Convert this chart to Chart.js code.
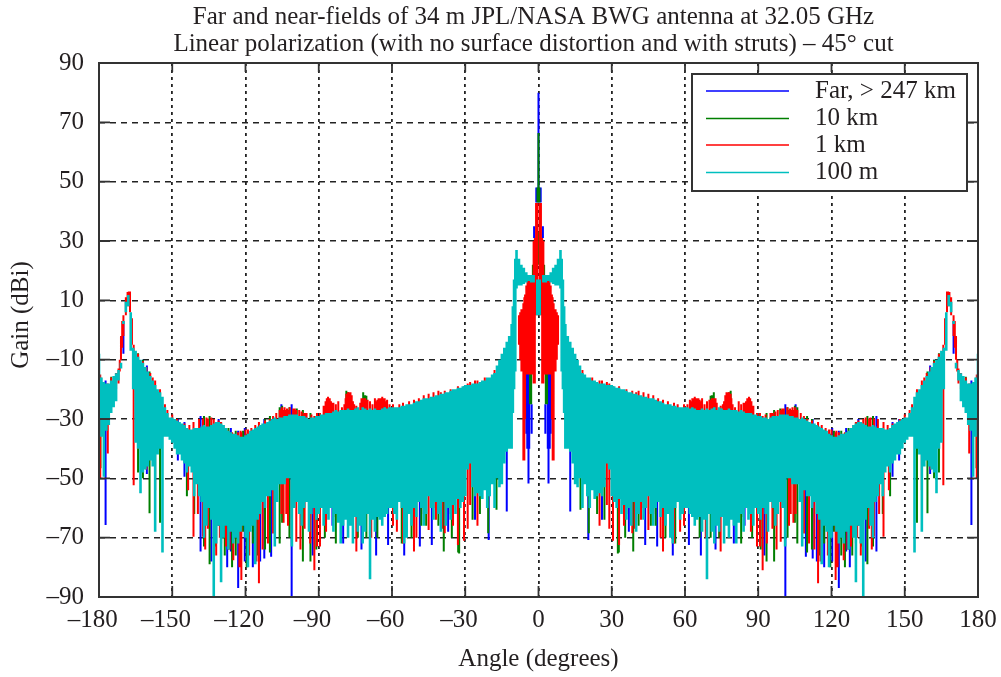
<!DOCTYPE html>
<html>
<head>
<meta charset="utf-8">
<title>Far and near-fields</title>
<script src="https://cdn.jsdelivr.net/npm/chart.js@4"></script>
<style>
  body { margin: 0; background: #fff; }
  canvas { display: block; }
</style>
</head>
<body>
<canvas id="gainChart" width="1001" height="677"></canvas>
<script>
// values, 0 to +180 degrees only: the cut is mirror symmetric
const titleLines = [
  'Far and near-fields of 34 m JPL/NASA BWG antenna at 32.05 GHz',
  'Linear polarization (with no surface distortion and with struts) \u2013 45\u00b0 cut'
];
const seriesNames = ['Far, > 247 km', '10 km', '1 km', '100 m'];
const seriesColors = ['#0000ff', '#007f00', '#ff0000', '#00bfbf'];
const xTicks = [-180, -150, -120, -90, -60, -30, 0, 30, 60, 90, 120, 150, 180];
const yTicks = [-90, -70, -50, -30, -10, 10, 30, 50, 70, 90];

const tealAngle = [
  0.5, 2, 3, 4, 5, 6, 7, 8, 9, 9.5, 10, 10.5,
  11, 12, 13, 14, 15, 16, 17, 18, 19, 20,
  21, 22, 23, 24, 25, 26, 27, 28, 29, 30,
  31, 32, 33, 34, 35, 36, 37, 38, 39, 40,
  41, 42, 43, 44, 45, 46, 47, 48, 49, 50,
  51, 52, 53, 54, 55, 56, 57, 58, 59, 60,
  61, 62, 63, 64, 65, 66, 67, 68, 69, 70,
  71, 72, 73, 74, 75, 76, 77, 78, 79, 80,
  81, 82, 83, 84, 85, 86, 87, 88, 89, 90,
  91, 92, 93, 94, 95, 96, 97, 98, 99, 100,
  101, 102, 103, 104, 105, 106, 107, 108, 109, 110,
  111, 112, 113, 114, 115, 116, 117, 118, 119, 120,
  121, 122, 123, 124, 125, 126, 127, 128, 129, 130,
  131, 132, 133, 134, 135, 136, 137, 138, 139, 140,
  141, 142, 143, 144, 145, 146, 147, 148, 149, 150,
  151, 152, 153, 154, 155, 156, 157, 158, 159, 160,
  161, 162, 163, 164, 165, 166, 167, 168, 169, 170,
  171, 172, 173, 174, 175, 176, 177, 178, 179, 180
];
const tealHigh = [
  17, 18.5, 18.5, 18.5, 19.5, 21, 22, 24, 27, 24, 17, 8,
  2, -2, -4, -6, -8, -10, -12, -14.5, -15, -16,
  -16, -17, -17, -17.5, -18, -18, -18, -18.5, -18.5, -18.5,
  -19, -19.5, -19.5, -20, -20, -20.5, -21, -21, -21.5, -21.5,
  -22, -22, -22.5, -22.5, -23, -23, -23, -23.5, -24, -24,
  -24.5, -25, -25, -25, -25.5, -25.5, -26, -26, -26, -26,
  -26, -26.5, -26, -26.5, -27, -27, -26.5, -27, -26.5, -27,
  -26.5, -26, -27, -26, -26.5, -27, -27, -26.5, -27, -27,
  -27, -27.5, -27, -27.5, -28, -28, -28, -28.5, -28.5, -29,
  -29, -29.5, -29.5, -30, -29.5, -29, -29, -29, -28.5, -28.5,
  -28.5, -28.5, -29, -29, -29.5, -29.5, -30, -29.5, -30, -30.5,
  -31, -31.5, -31.5, -32, -32.5, -33, -33.5, -34, -35, -35.5,
  -36, -36, -35.5, -35, -35, -34.5, -34, -33, -32, -31.5,
  -31, -31, -31.5, -32, -32.5, -32.5, -32, -32.5, -33, -33,
  -33, -33.5, -33.5, -33, -32, -31.5, -31, -30.5, -30, -29.5,
  -29.5, -28, -26, -22.5, -21, -20, -18.5, -17, -15.5, -14,
  -12.5, -11, -10, -9, -7, -6, 6, 11.8, 9.5, 3,
  -11, -13.5, -14.6, -15.5, -17, -18, -18, -17.5, -16, -8
];
const tealLow = [
  5, 16, 16, 16.5, 16, 15.5, 15, 15, 14, -14, -20, -28,
  -40, -40, -41, -45, -52, -53, -50, -60, -52, -56,
  -60, -54, -57, -56, -55, -56, -53, -45, -47, -56,
  -58, -60, -57, -62, -59, -64, -60, -66, -58, -68,
  -62, -58, -64, -60, -56, -62, -66, -60, -58, -63,
  -60, -66, -62, -70, -72, -60, -58, -64, -62, -60,
  -60, -62, -63, -66, -64, -63, -68, -64, -84, -62,
  -68, -72, -66, -68, -63, -72, -66, -70, -64, -66,
  -72, -65, -62, -68, -60, -64, -62, -66, -60, -62,
  -64, -60, -62, -68, -58, -60, -66, -62, -58, -60,
  -73, -50, -50, -52, -52, -52, -58, -73, -54, -56,
  -56, -60, -58, -62, -64, -79, -66, -68, -80, -70,
  -66, -68, -72, -70, -72, -68, -74, -66, -70, -85,
  -66, -72, -90, -64, -60, -66, -70, -58, -56, -52,
  -56, -48, -46, -48, -45, -44, -42, -42, -40, -38,
  -37, -36, -36, -75, -40, -42, -68, -46, -44, -46,
  -47, -48, -55, -40, -38, -20, -7, 8, 6, 2,
  -13, -17, -24, -26, -28, -32, -34, -49.5, -36, -30
];

const redAngle = [
  0.5, 1, 1.5, 2, 2.5, 3, 3.5, 4, 4.5, 5, 5.5, 5.8, 6.2, 7, 7.5, 8,
  18, 22, 25, 26, 28, 29, 30.5, 33, 36, 38.4,
  40, 41, 43, 45, 47, 49, 51, 53, 55.5, 57,
  59.6, 61, 62, 63, 64, 65, 66, 67, 68, 69,
  70, 71, 72, 73, 74.6, 75.5, 76.5, 77.3, 78, 78.7,
  79.5, 80.5, 82, 83, 84, 85, 86.2, 87.2, 88, 89.5,
  90.7, 91.8, 93, 95, 95.8, 97, 98, 99.2, 100.5, 101.9,
  102.6, 103.3, 104.4, 105.3, 106, 107.4, 108.7, 110, 110.8, 112,
  114.5, 116, 117.6, 119, 120, 121.7, 123, 124, 125, 126,
  127, 128, 129, 131, 133, 135.4, 137.4, 139, 141.3, 143,
  145, 148, 150, 152, 153, 155, 157, 158, 159, 160.6,
  162, 164, 165.8, 166.5, 167.3, 167.8, 168.3, 169, 170, 170.5,
  171, 171.5, 172, 173, 175, 176.4, 179.5, 180,
  // second pass: top bursts
  62.5, 63.5, 64.5, 65.5, 66.5, 70.5, 71.5, 72.5, 76, 77,
  77.7, 79, 84.5, 85.5, 86.7, 103, 104, 105, 96, 99.8,
  122, 125.5, 130, 134, 136,
  // second pass: lower spikes
  35, 39.5, 42, 50, 54, 58, 68.5, 87, 93.5, 97.5,
  113, 115.5, 118.5, 122.5, 126.5, 130.5, 132, 136.5, 139.5, 143.5
];
const redHigh = [
  42.8, 42.8, 31, 30, 17, 17, 17, 17, 17, 15, 12, 11, 9, 7, 6, 5,
  -13.5, -16, -17, -17, -17.5, -18, -19, -19, -20, -20.5,
  -21, -20.5, -21, -21.5, -22, -23, -23.5, -24, -24.5, -25,
  -25, -25, -23.5, -23, -22.5, -23, -23.5, -23, -25, -24,
  -23.5, -23, -23, -24.5, -25.5, -25, -22, -21, -21, -21.5,
  -25, -26, -24, -25, -24.5, -24, -22.5, -24, -25.5, -28,
  -28, -29, -28.5, -28, -28, -27.5, -27, -27, -26.5, -26,
  -27, -27, -27, -26.5, -27, -28, -29, -30, -31, -30.5,
  -31, -32, -33, -33.5, -33.5, -34.5, -34.5, -35, -35, -34.5,
  -34, -33, -32, -30.5, -30, -29.8, -29.8, -30, -31, -32,
  -31.5, -30, -28.5, -27, -25, -20, -17, -16, -14.5, -12.5,
  -10.5, -8, -5, 4, 13, 13, 12.8, 11, 5, 3,
  -2, -10, -13, -14.5, -16, -18, -15, -8,
  -24, -23, -23, -23, -24, -23.5, -23, -23, -24, -21,
  -21, -23, -24.5, -23, -23, -26.5, -26, -26, -28, -26.5,
  -34, -34.5, -31, -29.5, -29.5,
  -24, -25, -25, -28, -29, -30, -30, -30, -30, -30,
  -34, -35, -36, -36, -36, -36, -35, -35, -36, -36
];
const redLow = [
  5, 5, -18, -18, -15, -15, -15, -15, -15, -15, -30, -44, -44, -14, -10, -5,
  -16, -22, -66, -20, -59, -67, -71, -72.5, -62, -68.5,
  -24, -24, -60, -67.4, -62, -26, -74.7, -27, -72, -28,
  -66, -28, -30, -30, -31, -30, -30, -30, -32, -30,
  -30, -31, -32, -30, -74.7, -30, -30, -32, -32, -31,
  -30, -30, -61, -30, -63, -30, -31, -30, -30, -73,
  -73, -81, -32, -32, -67, -31, -33, -71.4, -33, -33,
  -66, -62, -65, -62, -34, -33, -68.6, -34, -72, -35,
  -85.4, -36, -66, -37, -40, -84.3, -70, -38, -77.6, -38,
  -38, -73, -36, -34, -34, -67, -69.7, -35, -69.7, -35,
  -35, -33, -32, -30, -29, -24, -54, -22, -20, -47,
  -15, -40, -52.3, -5, 6, 8, 8, 5, -2, -6,
  -10, -14, -18, -20, -22, -41.6, -50, -56,
  -30, -30, -30, -30, -30, -30, -30, -30, -30, -32,
  -32, -30, -30, -31, -31, -32, -32, -32, -33, -33,
  -38, -38, -34, -33, -33,
  -66, -67, -64, -70, -68, -68, -70, -68, -72, -74,
  -74, -78, -76, -80, -74, -70, -76, -74, -62, -54
];

const greenAngle = [
  0, 0.3, 0.4, 2, 2.3, 3, 3.5,
  17.2, 20.6, 32.5, 32.9, 38.8, 43, 46, 48, 62,
  70.5, 71, 71.8, 76, 78, 78.7, 93.4, 96.5, 99, 102,
  105, 106, 110, 112, 121, 124, 127, 130, 134.7, 137,
  155, 159.3, 162, 164, 175, 179.4, 180,
  // second pass: lower spikes
  24, 27, 35.5, 41, 52, 56, 66, 74, 83, 87.5,
  91, 115, 117, 119.5, 125.5, 128.5, 132.5, 141, 144
];
const greenHigh = [
  66.4, 33, 48, 22, 22, -13, -13,
  -25, -20, -24, -24, -25, -30, -30, -30, -30,
  -22.2, -22, -21, -28, -21, -20.5, -28, -27, -26.5, -26,
  -25.5, -26, -29, -30, -34, -34, -33, -31, -29, -29,
  -21, -14, -10, -7.8, -15.8, -16, -8,
  -30, -30, -30, -30, -30, -30, -30, -30, -30, -30,
  -30, -35, -35, -35, -35, -35, -35, -34, -34
];
const greenLow = [
  43, 22, 43, 17, 17, -25, -25,
  -60.6, -68.5, -75.3, -75, -74.7, -58, -66, -66, -60,
  -70, -26, -26, -62, -25, -26, -78, -78, -30, -70,
  -65, -72, -75, -74, -68, -76, -74, -72, -79, -73,
  -65, -61.8, -50, -48, -22, -46.6, -58,
  -62, -64, -70, -66, -70, -72, -70, -70, -72, -70,
  -74, -76, -72, -80, -80, -76, -73, -62, -56
];

const farAngle = [
  0, 0.9, 1.8, 2.8, 3.8, 4.1, 4.6, 5,
  13, 15.2, 20.4, 43.7, 48.6, 61.6, 84.4, 87, 89.5,
  101.1, 105.3, 109.5, 112.3, 120.3, 123, 126, 131, 138.4,
  145, 147.7, 160.4, 162, 170, 177.3,
  // second pass: lower spikes
  26, 37, 55, 66.5, 72.5, 80, 92.5, 114, 117, 127.5, 134
];
const farHigh = [
  80, 48, 35, -25, -14, -14, -14, -14,
  -30, -30, -40, -35, -35, -30, -27, -25, -28,
  -25, -25, -30, -30, -33, -34, -33, -30, -29,
  -31, -30, -12, -10, 3, -17,
  -30, -30, -30, -30, -30, -30, -30, -35, -35, -35, -35
];
const farLow = [
  43, 43, 31, -35, -40, -51.7, -40, -35,
  -61.2, -45, -70.8, -72.5, -73, -72.5, -66, -64, -60,
  -90, -30, -76.4, -77, -78, -87, -74.7, -66, -74.7,
  -49.5, -44, -48.5, -40, -8, -65.7,
  -64, -68, -76, -76, -74, -72, -76, -78, -80, -80, -78
];

// one vertical stroke per column, on both sides of boresight, broken by a null point
function columns(angles, high, low) {
  const pts = [];
  const add = (x, i) => {
    pts.push({ x: x, y: high[i] }, { x: x, y: low[i] }, { x: x, y: null });
  };
  for (let i = angles.length - 1; i >= 0; i--) {
    if (angles[i] !== 0) add(-angles[i], i);
  }
  angles.forEach((a, i) => add(a, i));
  return pts;
}

function lineSet(i, data, width) {
  return {
    label: seriesNames[i],
    data: data,
    borderColor: seriesColors[i],
    backgroundColor: seriesColors[i],
    borderWidth: width,
    borderCapStyle: 'butt',
    borderJoinStyle: 'bevel',
    pointRadius: 0,
    tension: 0,
    fill: false,
    spanGaps: false,
    order: 4 - i // 100 m goes on top, far field at the bottom
  };
}

const serif = '"Liberation Serif", "Times New Roman", serif';
const inkColor = '#231f20';

// box, inner ticks, y title and the legend, which sits on top of the traces
const framePlugin = {
  id: 'frame',
  afterLayout(chart) {
    chart.titleBlock.left -= 10;
  },
  afterDatasetsDraw(chart) {
    const { ctx, chartArea: a, scales } = chart;
    ctx.save();
    ctx.strokeStyle = '#333';
    ctx.setLineDash([]);
    ctx.beginPath();
    xTicks.forEach(v => {
      const x = scales.x.getPixelForValue(v);
      ctx.moveTo(x, a.bottom); ctx.lineTo(x, a.bottom - 11);
      ctx.moveTo(x, a.top); ctx.lineTo(x, a.top + 9);
    });
    yTicks.forEach(v => {
      const y = scales.y.getPixelForValue(v);
      ctx.moveTo(a.left, y); ctx.lineTo(a.left + 11, y);
      ctx.moveTo(a.right, y); ctx.lineTo(a.right - 11, y);
    });
    ctx.lineWidth = 1.8;
    ctx.stroke();
    ctx.lineWidth = 2;
    ctx.strokeRect(a.left, a.top, a.right - a.left, a.bottom - a.top);

    const rowY = [91, 118.5, 145, 172.5];
    ctx.fillStyle = '#fff';
    ctx.fillRect(692, 74, 275, 117);
    ctx.strokeRect(692, 74, 275, 117);
    ctx.font = '25px ' + serif;
    ctx.textBaseline = 'middle';
    seriesNames.forEach((name, i) => {
      ctx.strokeStyle = seriesColors[i];
      ctx.lineWidth = 1.3;
      ctx.beginPath();
      ctx.moveTo(706, rowY[i]);
      ctx.lineTo(789, rowY[i]);
      ctx.stroke();
      ctx.fillStyle = inkColor;
      ctx.fillText(name, 815, rowY[i]);
    });

    ctx.translate(21, 315);
    ctx.rotate(-Math.PI / 2);
    ctx.textAlign = 'center';
    ctx.fillText('Gain (dBi)', 0, 0);
    ctx.restore();
  }
};

new Chart(document.getElementById('gainChart').getContext('2d'), {
  type: 'line',
  data: {
    datasets: [
      lineSet(0, columns(farAngle, farHigh, farLow), 2),
      lineSet(1, columns(greenAngle, greenHigh, greenLow), 2),
      lineSet(2, columns(redAngle, redHigh, redLow), 2),
      lineSet(3, columns(tealAngle, tealHigh, tealLow), 2.6)
    ]
  },
  options: {
    responsive: false,
    animation: false,
    layout: { padding: { top: 0, left: 0, right: 23, bottom: 0 } },
    plugins: {
      legend: { display: false },
      tooltip: { enabled: false },
      title: {
        display: true,
        fullSize: false,
        text: titleLines,
        color: inkColor,
        font: { family: serif, size: 25, weight: 'normal', lineHeight: 1.08 },
        padding: { top: 4, bottom: 5 }
      }
    },
    scales: {
      x: {
        type: 'linear',
        min: -180,
        max: 180,
        afterBuildTicks: s => { s.ticks = xTicks.map(v => ({ value: v })); },
        afterFit: s => { s.height = 80; s.paddingLeft = 0; s.paddingRight = 0; },
        grid: { color: '#222', lineWidth: 1.8, drawTicks: false },
        border: { dash: [3, 4], display: false },
        ticks: {
          color: inkColor,
          font: { family: serif, size: 25 },
          padding: 8,
          maxRotation: 0,
          autoSkip: false,
          // the minus hangs to the left of the digits, two spaces push the label over
          callback: v => v < 0 ? '\u2013' + (-v) + '\u00a0\u00a0' : String(v)
        },
        title: {
          display: true,
          text: 'Angle (degrees)',
          color: inkColor,
          font: { family: serif, size: 25, lineHeight: 1.2 },
          padding: { top: 0, bottom: 3 }
        }
      },
      y: {
        min: -90,
        max: 90,
        afterBuildTicks: s => { s.ticks = yTicks.map(v => ({ value: v })); },
        afterFit: s => { s.width = 99; s.paddingTop = 0; s.paddingBottom = 0; },
        grid: { color: '#222', lineWidth: 1.4, drawTicks: false },
        border: { dash: [6, 5], display: false },
        ticks: {
          color: inkColor,
          font: { family: serif, size: 25 },
          padding: 15,
          autoSkip: false,
          callback: v => String(v).replace('-', '\u2013')
        }
      }
    }
  },
  plugins: [framePlugin]
});
</script>
</body>
</html>
